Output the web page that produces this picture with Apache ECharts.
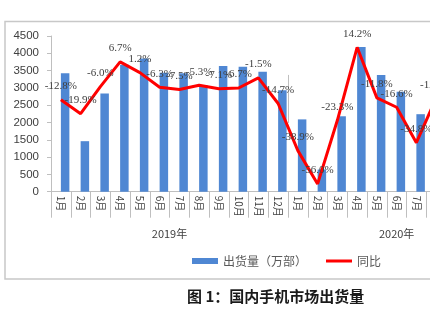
<!DOCTYPE html>
<html>
<head>
<meta charset="utf-8">
<script src="https://cdn.jsdelivr.net/npm/echarts@6/dist/echarts.min.js"></script>
<style>
html,body{margin:0;padding:0;background:#fff;}
#c{width:430px;height:325px;}
</style>
</head>
<body>
<div id="c"></div>
<script>
// ---- data ----
const years = ['2019年', '2020年'];
const months2019 = ['1月','2月','3月','4月','5月','6月','7月','8月','9月','10月','11月','12月'];
const months2020 = ['1月','2月','3月','4月','5月','6月','7月','8月','9月','10月','11月'];
// shipments (万部)
const shipments2019 = [3420, 1460, 2840, 3670, 3850, 3440, 3420, 3080, 3630, 3610, 3470, 2930];
const shipments2020 = [2090, 640, 2180, 4180, 3370, 2890, 2240, null, null, null, null];
// year-on-year (%)
const yoy2019 = [-12.8, -19.9, -6.0, 6.7, 1.2, -6.3, -7.5, -5.3, -7.1, -6.7, -1.5, -14.7];
const yoy2020 = [-38.9, -56.0, -23.3, 14.2, -11.8, -16.6, -34.8, -12.0, null, null, null];
const leftTicks = [0, 500, 1000, 1500, 2000, 2500, 3000, 3500, 4000, 4500];
const seriesNames = ['出货量（万部）', '同比'];
const titleText = '图 1：国内手机市场出货量';

// ---- build ----
const categories = months2019.map(m => years[0] + m).concat(months2020.map(m => years[1] + m));
const shipments = shipments2019.concat(shipments2020).map(v => v == null ? '-' : v);
const yoy = yoy2019.concat(yoy2020).map(v => v == null ? '-' : v);
const groupSizes = [months2019.length, months2020.length];
const groupBounds = [0, groupSizes[0], groupSizes[0] + groupSizes[1]];
const groupCenters = [groupSizes[0] / 2, groupSizes[0] + groupSizes[1] / 2];

const N = categories.length;
const band = 19.75;
const chart = echarts.init(document.getElementById('c'), null, {renderer: 'canvas'});
const axisGray = '#bfbfbf';
const txt = '#404040';

chart.setOption({
  animation: false,
  backgroundColor: '#ffffff',
  title: {
    text: titleText,
    left: 182, top: 284,
    textStyle: {fontFamily: 'Noto Sans CJK SC', fontWeight: 'bold', fontSize: 15, color: '#1a1a1a'}
  },
  legend: {
    left: 187, top: 250,
    itemWidth: 26, itemHeight: 6, itemGap: 19,
    symbolKeepAspect: true,
    data: [
      {name: seriesNames[0], icon: 'rect'},
      {name: seriesNames[1], icon: 'path://M0,0h26v3h-26z', itemStyle: {color: '#ff0000'}}
    ],
    textStyle: {fontFamily: 'Noto Sans CJK SC', fontSize: 12, color: '#595959'}
  },
  graphic: [{
    type: 'rect', silent: true,
    shape: {x: 5, y: 21.5, width: 520, height: 257.5},
    style: {fill: 'none', stroke: '#c8c8c8', lineWidth: 1.5}
  }],
  grid: {left: 51, top: 36, width: N * band, height: 155.7, containLabel: false, outerBoundsMode: 'none'},
  xAxis: [{
    type: 'category',
    data: categories,
    boundaryGap: true,
    axisLine: {lineStyle: {color: axisGray, width: 1}},
    axisTick: {show: true, interval: 0, length: 26, lineStyle: {color: axisGray}},
    axisLabel: {
      interval: 0, rotate: -90, margin: 4,
      fontFamily: 'Noto Sans CJK SC', fontSize: 10, color: txt,
      formatter: v => v.replace(/^\d+年/, '')
    }
  }, {
    type: 'value',
    min: groupBounds[0], max: groupBounds[2],
    position: 'bottom',
    axisLine: {show: false},
    splitLine: {show: false},
    axisTick: {show: true, customValues: groupBounds, length: 48, lineStyle: {color: axisGray}},
    axisLabel: {
      customValues: groupCenters, margin: 37,
      fontFamily: 'Noto Sans CJK SC', fontSize: 11, color: txt,
      formatter: v => years[groupCenters.indexOf(v)]
    }
  }],
  yAxis: [{
    type: 'value', min: leftTicks[0], max: leftTicks[leftTicks.length - 1], interval: 500,
    axisLine: {show: true, lineStyle: {color: axisGray}},
    axisTick: {show: true, length: 4, lineStyle: {color: axisGray}},
    splitLine: {show: false},
    axisLabel: {margin: 12, fontFamily: 'Liberation Sans', fontSize: 11.5, color: txt,
      formatter: v => String(v)}
  }, {
    type: 'value', min: -60, max: 20, show: false, splitLine: {show: false}
  }],
  series: [{
    type: 'bar', name: '_pad', data: categories.map(() => '-'),
    barWidth: 8.5, barGap: '0%', silent: true, xAxisIndex: 0, yAxisIndex: 0
  }, {
    type: 'bar', name: seriesNames[0], data: shipments,
    barWidth: 8.5, barGap: '0%', xAxisIndex: 0, yAxisIndex: 0,
    itemStyle: {color: '#4f87d3'}
  }, {
    type: 'line', name: seriesNames[1], data: yoy,
    xAxisIndex: 0, yAxisIndex: 1, z: 5,
    symbol: 'circle', symbolSize: 0.01, showSymbol: true,
    lineStyle: {color: '#ff0000', width: 3},
    itemStyle: {color: '#ff0000'},
    label: {
      show: true, position: 'top', distance: 8,
      fontFamily: 'Liberation Serif', fontSize: 11, color: txt,
      formatter: p => Number(p.value).toFixed(1) + '%'
    }
  }]
});
</script>
</body>
</html>
